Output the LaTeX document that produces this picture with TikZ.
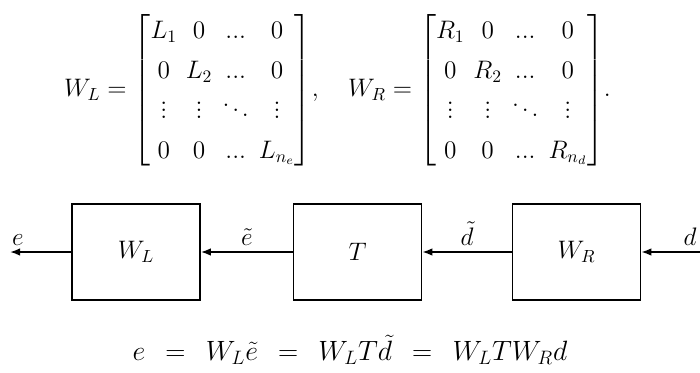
\documentclass[tikz,border=0pt]{standalone}
\usepackage{amsmath}
\usetikzlibrary{arrows.meta}
\begin{document}
\begin{tikzpicture}[every node/.style={font=\fontsize{14.4}{17}\selectfont},
    blk/.style={draw,line width=0.9pt,minimum width=2.56cm,minimum height=1.92cm},
    sig/.style={line width=0.9pt,-{Latex[length=2mm,width=1.5mm]}}]
  \useasboundingbox (0,0) rectangle (14,7.44);
  % weighting matrices
  \node[inner sep=0pt] (mats) at (6.75,5.63) {\renewcommand{\arraystretch}{1.34}\setlength{\arraycolsep}{2.5pt}%
    $W_L = \begin{bmatrix} L_1 & 0 & ... & 0\\ 0 & L_2 & ... & 0\\ \vdots & \vdots & \ddots & \vdots\\ 0 & 0 & ... & L_{n_e} \end{bmatrix}\!,
    \quad W_R = \begin{bmatrix} R_1 & 0 & ... & 0\\ 0 & R_2 & ... & 0\\ \vdots & \vdots & \ddots & \vdots\\ 0 & 0 & ... & R_{n_d} \end{bmatrix}\!.$};
  % blocks
  \node[blk] (wl) at (2.72,2.4) {$W_L$};
  \node[blk] (tt) at (7.15,2.4) {$T$};
  \node[blk] (wr) at (11.53,2.4) {$W_R$};
  \coordinate (eout) at (0.2,2.4); \coordinate (din) at (14,2.4);
  % signals, right to left
  \draw[sig] (din) -- (wr) node[pos=0.17,above] {$d$};
  \draw[sig] (wr) -- (tt) node[midway,above] {$\tilde{d}$};
  \draw[sig] (tt) -- (wl) node[midway,above] {$\tilde{e}$};
  \draw[sig] (wl) -- (eout) node[pos=0.87,above] {$e$};
  % relation
  \node[font=\fontsize{17.28}{20}\selectfont,scale=0.92,transform shape] (rel) at (7.0,0.44) {$e \;\,=\;\, W_L\tilde{e} \;\,=\;\, W_L T\tilde{d} \;\,=\;\, W_L T W_R d$};
\end{tikzpicture}
\end{document}
